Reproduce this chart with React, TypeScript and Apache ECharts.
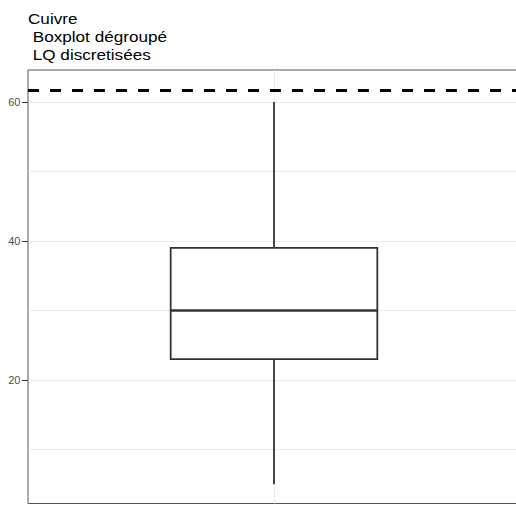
import React, { useEffect, useRef } from "react";
import * as echarts from "echarts";

const titleLines = ["Cuivre", " Boxplot dégroupé", " LQ discretisées"];
const categories = ["Cuivre"];
// [min, Q1, median, Q3, max]
const boxStats = [5, 23, 30, 39, 60];
const lqValue = 61.74;
const yTickLabels = [20, 40, 60];
const gridValues = [10, 20, 30, 40, 50, 60];
const yMin = 2.23;
const yMax = 64.6;

const FONT = "'Liberation Sans', Arial, sans-serif";

export default function App() {
  const ref = useRef<HTMLDivElement>(null);
  useEffect(() => {
    if (!ref.current) return;
    const chart = echarts.init(ref.current, undefined, { renderer: "svg" });
    const stroke = "#333333";
    chart.setOption({
      animation: false,
      graphic: [
        {
          type: "text",
          left: 28,
          top: 9,
          scaleX: 1.12,
          originX: 0,
          style: {
            text: titleLines.join("\n"),
            fontFamily: FONT,
            fontSize: 15.3,
            lineHeight: 18.3,
            fill: "#000000",
          },
        },
      ],
      grid: {
        left: 28,
        right: 10,
        top: 70,
        bottom: 1.5,
        show: true,
        borderColor: "#555555",
        borderWidth: 1,
        backgroundColor: "transparent",
      },
      xAxis: {
        type: "category",
        data: categories,
        boundaryGap: true,
        axisLabel: { show: false },
        axisTick: { show: false },
        axisLine: { show: false },
        splitLine: { show: false },
      },
      yAxis: {
        type: "value",
        min: yMin,
        max: yMax,
        axisLine: { show: false },
        splitLine: { show: false },
        axisTick: {
          show: true,
          length: 6,
          customValues: yTickLabels,
          lineStyle: { color: "#333333", width: 1 },
        },
        axisLabel: {
          customValues: yTickLabels,
          fontFamily: FONT,
          fontSize: 11,
          color: "#4d4d4d",
          margin: 7.5,
        },
      },
      series: [
        {
          type: "line",
          data: [],
          z: 0,
          silent: true,
          markLine: {
            silent: true,
            z: 0,
            symbol: ["none", "none"],
            label: { show: false },
            lineStyle: { color: "#ebebeb", width: 1, type: "solid" },
            data: [
              ...gridValues.map((v) => ({ yAxis: v })),
              { xAxis: categories[0] },
            ],
          },
        },
        {
          type: "custom",
          z: 3,
          data: [[0, ...boxStats]],
          encode: { x: 0, y: [1, 2, 3, 4, 5] },
          renderItem: (params: any, api: any) => {
            const xi = api.value(0);
            const pMin = api.coord([xi, api.value(1)]);
            const pQ1 = api.coord([xi, api.value(2)]);
            const pMed = api.coord([xi, api.value(3)]);
            const pQ3 = api.coord([xi, api.value(4)]);
            const pMax = api.coord([xi, api.value(5)]);
            const w = api.size([1, 0])[0] * 0.42;
            const cx = pMed[0];
            const lw = 1.8;
            return {
              type: "group",
              children: [
                {
                  type: "line",
                  shape: { x1: cx, y1: pQ1[1], x2: cx, y2: pMin[1] },
                  style: { stroke, lineWidth: lw },
                },
                {
                  type: "line",
                  shape: { x1: cx, y1: pQ3[1], x2: cx, y2: pMax[1] },
                  style: { stroke, lineWidth: lw },
                },
                {
                  type: "rect",
                  shape: { x: cx - w / 2, y: pQ3[1], width: w, height: pQ1[1] - pQ3[1] },
                  style: { fill: "#ffffff", stroke, lineWidth: lw },
                },
                {
                  type: "line",
                  shape: { x1: cx - w / 2, y1: pMed[1], x2: cx + w / 2, y2: pMed[1] },
                  style: { stroke, lineWidth: 2.6 },
                },
              ],
            };
          },
        },
        {
          type: "line",
          data: [],
          z: 4,
          silent: true,
          markLine: {
            silent: true,
            z: 6,
            symbol: ["none", "none"],
            label: { show: false },
            lineStyle: { color: "#000000", width: 2.8, type: [11, 11] },
            data: [{ yAxis: lqValue }],
          },
        },
      ],
    });
    return () => chart.dispose();
  }, []);
  return (
    <div
      style={{
        position: "absolute",
        left: 0,
        top: 0,
        width: 516,
        height: 505,
        overflow: "hidden",
        background: "#ffffff",
      }}
    >
      <div ref={ref} style={{ width: 530, height: 505 }} />
    </div>
  );
}
